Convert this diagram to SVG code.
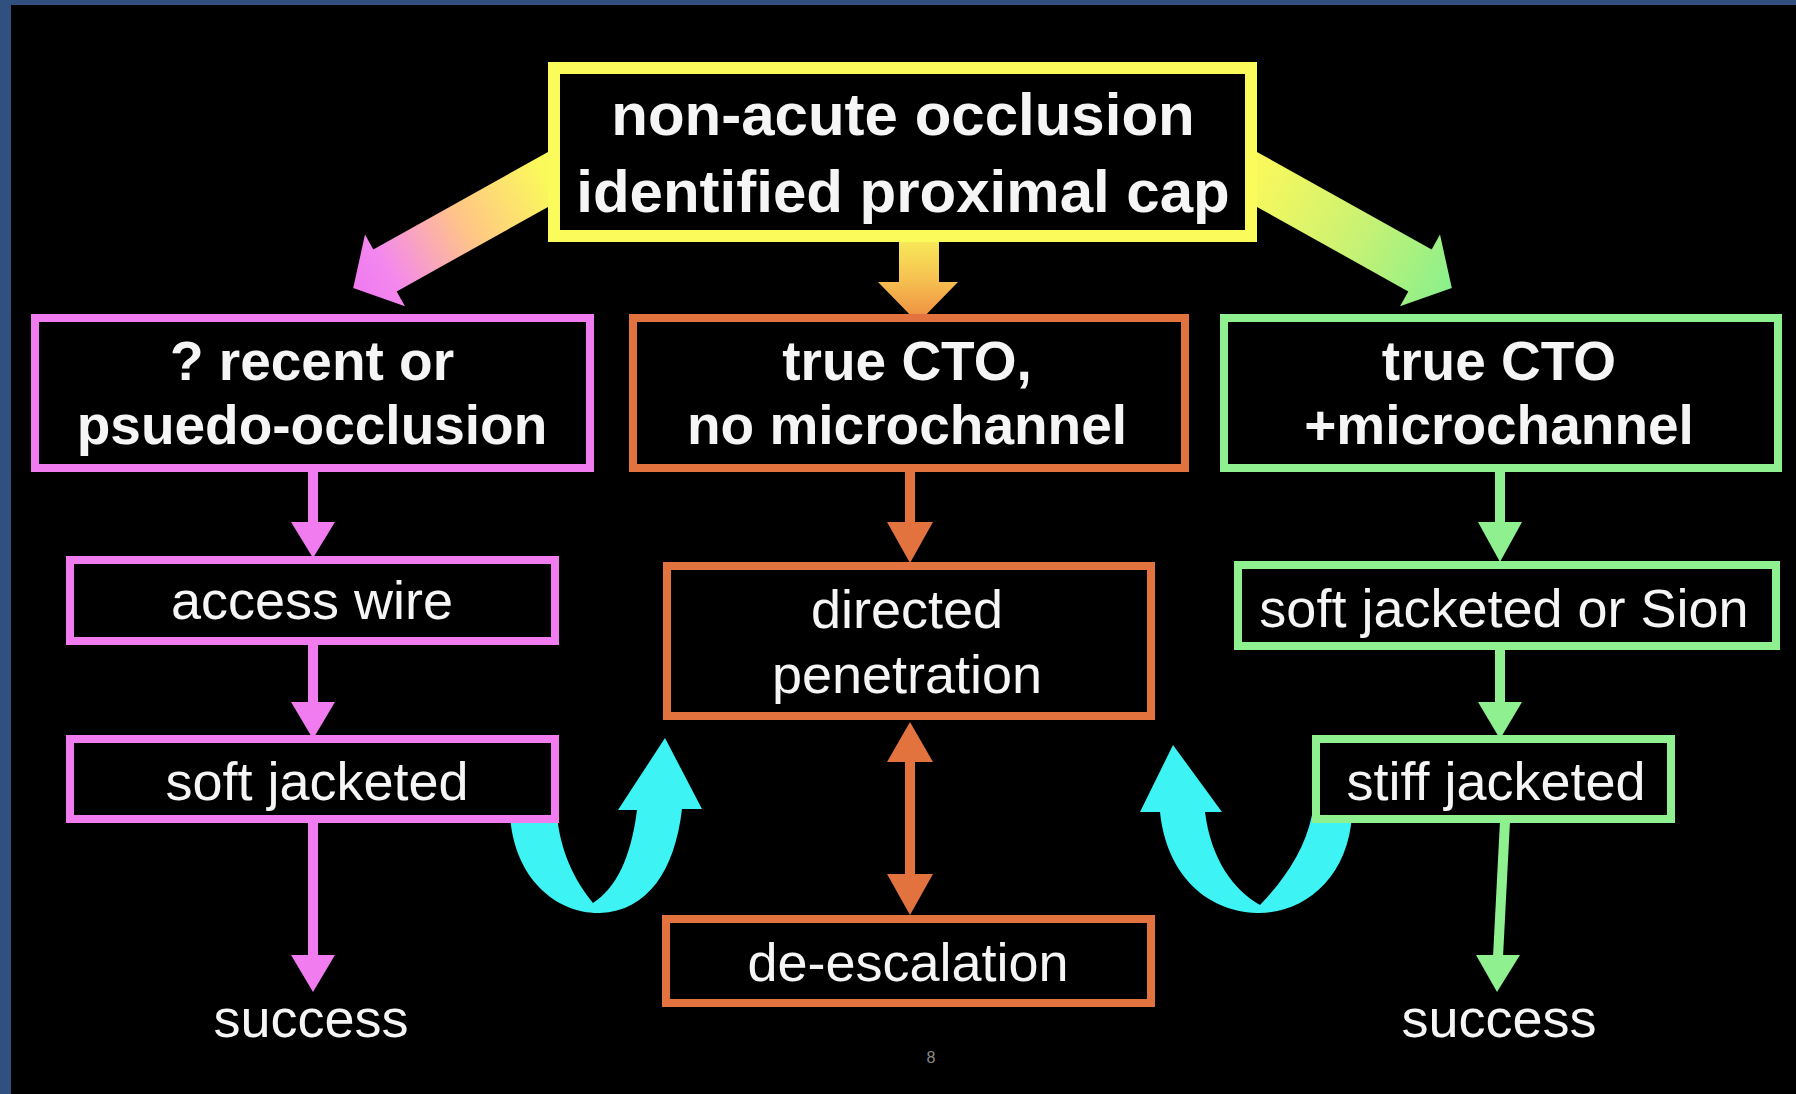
<svg xmlns="http://www.w3.org/2000/svg" width="1796" height="1094" viewBox="0 0 1796 1094">
  <style>
    .box { fill: #000; stroke-width: 8; }
    .pink { stroke: #f07cf0; }
    .orange { stroke: #e2733f; }
    .green { stroke: #8ef08e; }
    .yellow { stroke: #fbfb5c; stroke-width: 12; }
    .t { fill: #f5f5f5; font-family: "Liberation Sans", Arial, sans-serif; text-anchor: middle; }
    .big { font-size: 60px; font-weight: bold; }
    .hdr { font-size: 55px; font-weight: bold; }
    .reg { font-size: 54px; }
    .pf { fill: #f07cf0; } .ps { stroke: #f07cf0; }
    .of { fill: #e2733f; } .os { stroke: #e2733f; }
    .gf { fill: #8ef08e; } .gs { stroke: #8ef08e; }
    .shaft { stroke-width: 10; fill: none; }
    .cyan { fill: #3ef3f3; }
  </style>
  <defs>
    <linearGradient id="gradL" gradientUnits="userSpaceOnUse" x1="548" y1="180" x2="360" y2="285">
      <stop offset="0" stop-color="#fafa5a"/>
      <stop offset="0.45" stop-color="#ffc488"/>
      <stop offset="0.85" stop-color="#f488ee"/>
      <stop offset="1" stop-color="#f07cf0"/>
    </linearGradient>
    <linearGradient id="gradR" gradientUnits="userSpaceOnUse" x1="1257" y1="180" x2="1445" y2="285">
      <stop offset="0" stop-color="#f8f85c"/>
      <stop offset="0.5" stop-color="#ccf272"/>
      <stop offset="1" stop-color="#8ef08a"/>
    </linearGradient>
    <linearGradient id="gradC" gradientUnits="userSpaceOnUse" x1="0" y1="236" x2="0" y2="324">
      <stop offset="0" stop-color="#f8ee5a"/>
      <stop offset="0.5" stop-color="#f6c050"/>
      <stop offset="1" stop-color="#ee8840"/>
    </linearGradient>
  </defs>

  <rect x="0" y="0" width="1796" height="1094" fill="#30507f"/>
  <rect x="11" y="5" width="1785" height="1089" fill="#000"/>

  <g id="connectors">
    <!-- big arrows from top box -->
    <polygon points="548,152 373.3,249.4 365,234.6 353.2,288.1 405,306.2 396.7,291.4 548,207" fill="url(#gradL)"/>
    <polygon points="1257,152 1431.7,249.4 1440,234.6 1451.8,288.1 1400,306.2 1408.3,291.4 1257,207" fill="url(#gradR)"/>
    <polygon points="899,236 939,236 939,282 958,282 918,323 878,282 899,282" fill="url(#gradC)"/>

    <!-- pink column -->
    <line class="shaft ps" x1="313" y1="470" x2="313" y2="524"/>
    <polygon class="pf" points="291,522 335,522 313,558"/>
    <line class="shaft ps" x1="313" y1="643" x2="313" y2="704"/>
    <polygon class="pf" points="291,702 335,702 313,739"/>
    <line class="shaft ps" x1="313" y1="821" x2="313" y2="957"/>
    <polygon class="pf" points="291,955 335,955 313,992"/>

    <!-- orange column -->
    <line class="shaft os" x1="910" y1="470" x2="910" y2="524"/>
    <polygon class="of" points="887,522 933,522 910,563"/>
    <line class="shaft os" x1="910" y1="760" x2="910" y2="876"/>
    <polygon class="of" points="910,722 933,762 887,762"/>
    <polygon class="of" points="887,874 933,874 910,915"/>

    <!-- green column -->
    <line class="shaft gs" x1="1500" y1="470" x2="1500" y2="524"/>
    <polygon class="gf" points="1478,522 1522,522 1500,562"/>
    <line class="shaft gs" x1="1500" y1="648" x2="1500" y2="704"/>
    <polygon class="gf" points="1478,702 1522,702 1500,739"/>
    <line class="shaft gs" x1="1505" y1="821" x2="1498" y2="957"/>
    <polygon class="gf" points="1476,955 1520,955 1497,992"/>

    <!-- cyan loop arrows -->
    <path class="cyan" d="M510,815 C514,880 558,914 600,913 C648,911 675,870 682,809 L702,809 L665,738 L618,810 L637,810 C631,858 616,888 593,903 C574,880 560,850 557,815 Z"/>
    <path class="cyan" d="M1352,815 C1348,880 1302,914 1257,913 C1202,911 1166,870 1160,812 L1140,812 L1173,745 L1222,812 L1205,812 C1211,860 1234,890 1260,905 C1284,880 1305,850 1312,815 Z"/>
  </g>

  <g id="node-top">
    <rect class="box yellow" x="554" y="68" width="697" height="168"/>
    <text class="t big" x="903" y="135">non-acute occlusion</text>
    <text class="t big" x="903" y="212">identified proximal cap</text>
  </g>

  <g id="node-recent">
    <rect class="box pink" x="35" y="318" width="555" height="150"/>
    <text class="t hdr" x="312" y="380">? recent or</text>
    <text class="t hdr" x="312" y="444">psuedo-occlusion</text>
  </g>
  <g id="node-access">
    <rect class="box pink" x="70" y="560" width="485" height="81"/>
    <text class="t reg" x="312" y="619">access wire</text>
  </g>
  <g id="node-soft">
    <rect class="box pink" x="70" y="739" width="485" height="80"/>
    <text class="t reg" x="317" y="800">soft jacketed</text>
  </g>
  <g id="node-success-left">
    <text class="t reg" x="311" y="1037">success</text>
  </g>

  <g id="node-cto-no">
    <rect class="box orange" x="633" y="318" width="552" height="150"/>
    <text class="t hdr" x="907" y="380">true CTO,</text>
    <text class="t hdr" x="907" y="444">no microchannel</text>
  </g>
  <g id="node-directed">
    <rect class="box orange" x="667" y="566" width="484" height="150"/>
    <text class="t reg" x="907" y="628">directed</text>
    <text class="t reg" x="907" y="693">penetration</text>
  </g>
  <g id="node-deesc">
    <rect class="box orange" x="666" y="919" width="485" height="84"/>
    <text class="t reg" x="908" y="981">de-escalation</text>
  </g>

  <g id="node-cto-micro">
    <rect class="box green" x="1224" y="318" width="554" height="150"/>
    <text class="t hdr" x="1499" y="380">true CTO</text>
    <text class="t hdr" x="1499" y="444">+microchannel</text>
  </g>
  <g id="node-sion">
    <rect class="box green" x="1238" y="565" width="538" height="81"/>
    <text class="t reg" x="1504" y="627">soft jacketed or Sion</text>
  </g>
  <g id="node-stiff">
    <rect class="box green" x="1316" y="739" width="355" height="80"/>
    <text class="t reg" x="1496" y="800">stiff jacketed</text>
  </g>
  <g id="node-success-right">
    <text class="t reg" x="1499" y="1037">success</text>
  </g>

  <text x="931" y="1063" font-family="Liberation Sans, Arial, sans-serif" font-size="16" fill="#8a8a8a" text-anchor="middle">8</text>
</svg>
